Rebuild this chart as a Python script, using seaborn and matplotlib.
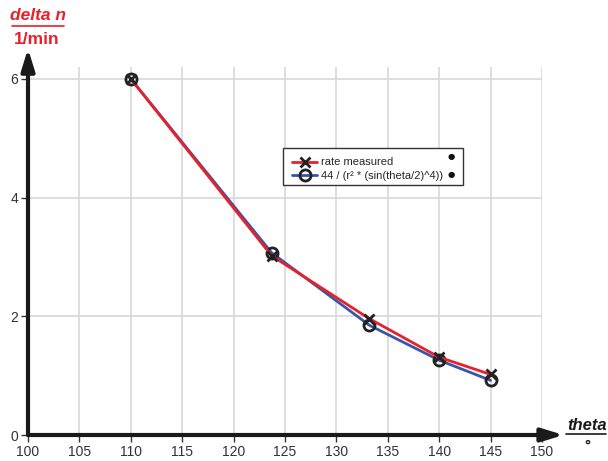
import pandas as pd
import matplotlib
matplotlib.use("Agg")
import matplotlib.pyplot as plt
import seaborn as sns

sns.set_style("white")
plt.rcParams['font.family'] = ['Liberation Sans', 'DejaVu Sans']

# data
theta = [110, 123.7, 133.2, 140, 145]
rate_measured = [6.0, 3.02, 1.96, 1.31, 1.02]
rate_theory = [6.0, 3.07, 1.85, 1.26, 0.92]

df = pd.DataFrame({"theta": theta, "measured": rate_measured, "theory": rate_theory})

W, H = 608, 461
fig = plt.figure(figsize=(6.08, 4.61), dpi=100)
ax = fig.add_axes([28 / W, 26 / H, 514 / W, 368 / H])

sns.lineplot(data=df, x="theta", y="theory", ax=ax, color="#3a55a8", lw=2,
             marker="o", ms=8, mfc="none", mec="#222222", mew=2,
             label="44 / (r² * (sin(theta/2)^4))", zorder=3)
sns.lineplot(data=df, x="theta", y="measured", ax=ax, color="#e8202a", lw=2,
             marker="x", ms=7, mec="#222222", mew=2,
             label="rate measured", zorder=4)

ax.set_xlim(100, 150)
ax.set_ylim(0, 6.2)
ax.set_xticks(range(100, 151, 5))
ax.set_yticks([0, 2, 4, 6])
ax.grid(True, color="#d8d8d8", lw=1.2)
ax.set_xlabel("")
ax.set_ylabel("")
for s in ax.spines.values():
    s.set_visible(False)
ax.tick_params(axis="both", length=5, width=1, color="#333333", labelsize=10,
               labelcolor="#333333", pad=2, bottom=True, left=True)

# axis arrows
arrow = dict(arrowstyle="-|>,head_length=1.3,head_width=0.4",
             lw=3, color="#1a1a1a", shrinkA=0, shrinkB=0)
ax.annotate("", xy=(1.042, 0), xytext=(0, 0), xycoords="axes fraction",
            arrowprops=arrow, annotation_clip=False)
ax.annotate("", xy=(0, 1.05), xytext=(0, 0), xycoords="axes fraction",
            arrowprops=arrow, annotation_clip=False)

# axis titles
fig.text(38 / W, 1 - 16 / H, "delta n", color="#e8202a", fontsize=12.5,
         fontweight="bold", style="italic", ha="center", va="center")
fig.add_artist(plt.Line2D([12 / W, 64 / W], [1 - 26 / H] * 2,
                          color="#e8202a", lw=1.2))
fig.text(37 / W, 1 - 39 / H, "1/min", color="#e8202a", fontsize=12.5,
         fontweight="bold", ha="center", va="center")
fig.text(587 / W, 1 - 425 / H, "theta", color="#1a1a1a", fontsize=12,
         fontweight="bold", style="italic", ha="center", va="center")
fig.add_artist(plt.Line2D([566 / W, 606 / W], [1 - 434 / H] * 2,
                          color="#1a1a1a", lw=1.2))
fig.text(587 / W, 1 - 446 / H, "°", color="#1a1a1a", fontsize=11,
         fontweight="bold", ha="center", va="center")

# legend: entries without frame, box drawn separately
handles, labels = ax.get_legend_handles_labels()
leg = ax.legend(handles[::-1], labels[::-1], loc="upper left",
                bbox_to_anchor=(255 / 514, 1 - 81 / 368), fontsize=8,
                frameon=False, borderpad=0.35, handlelength=2.2,
                handletextpad=0.4, labelspacing=0.3)
fig.add_artist(plt.Rectangle((283 / W, 1 - 185 / H), 180 / W, 37 / H,
                             fill=True, facecolor="white", edgecolor="#333333",
                             lw=1, zorder=5))
leg.set_zorder(6)
fig.add_artist(leg)
for yy in (157, 174):
    fig.text(451 / W, 1 - yy / H, "●", fontsize=6, color="#111111",
             ha="center", va="center", family="DejaVu Sans", zorder=7)

fig.savefig("out.png", dpi=100)
